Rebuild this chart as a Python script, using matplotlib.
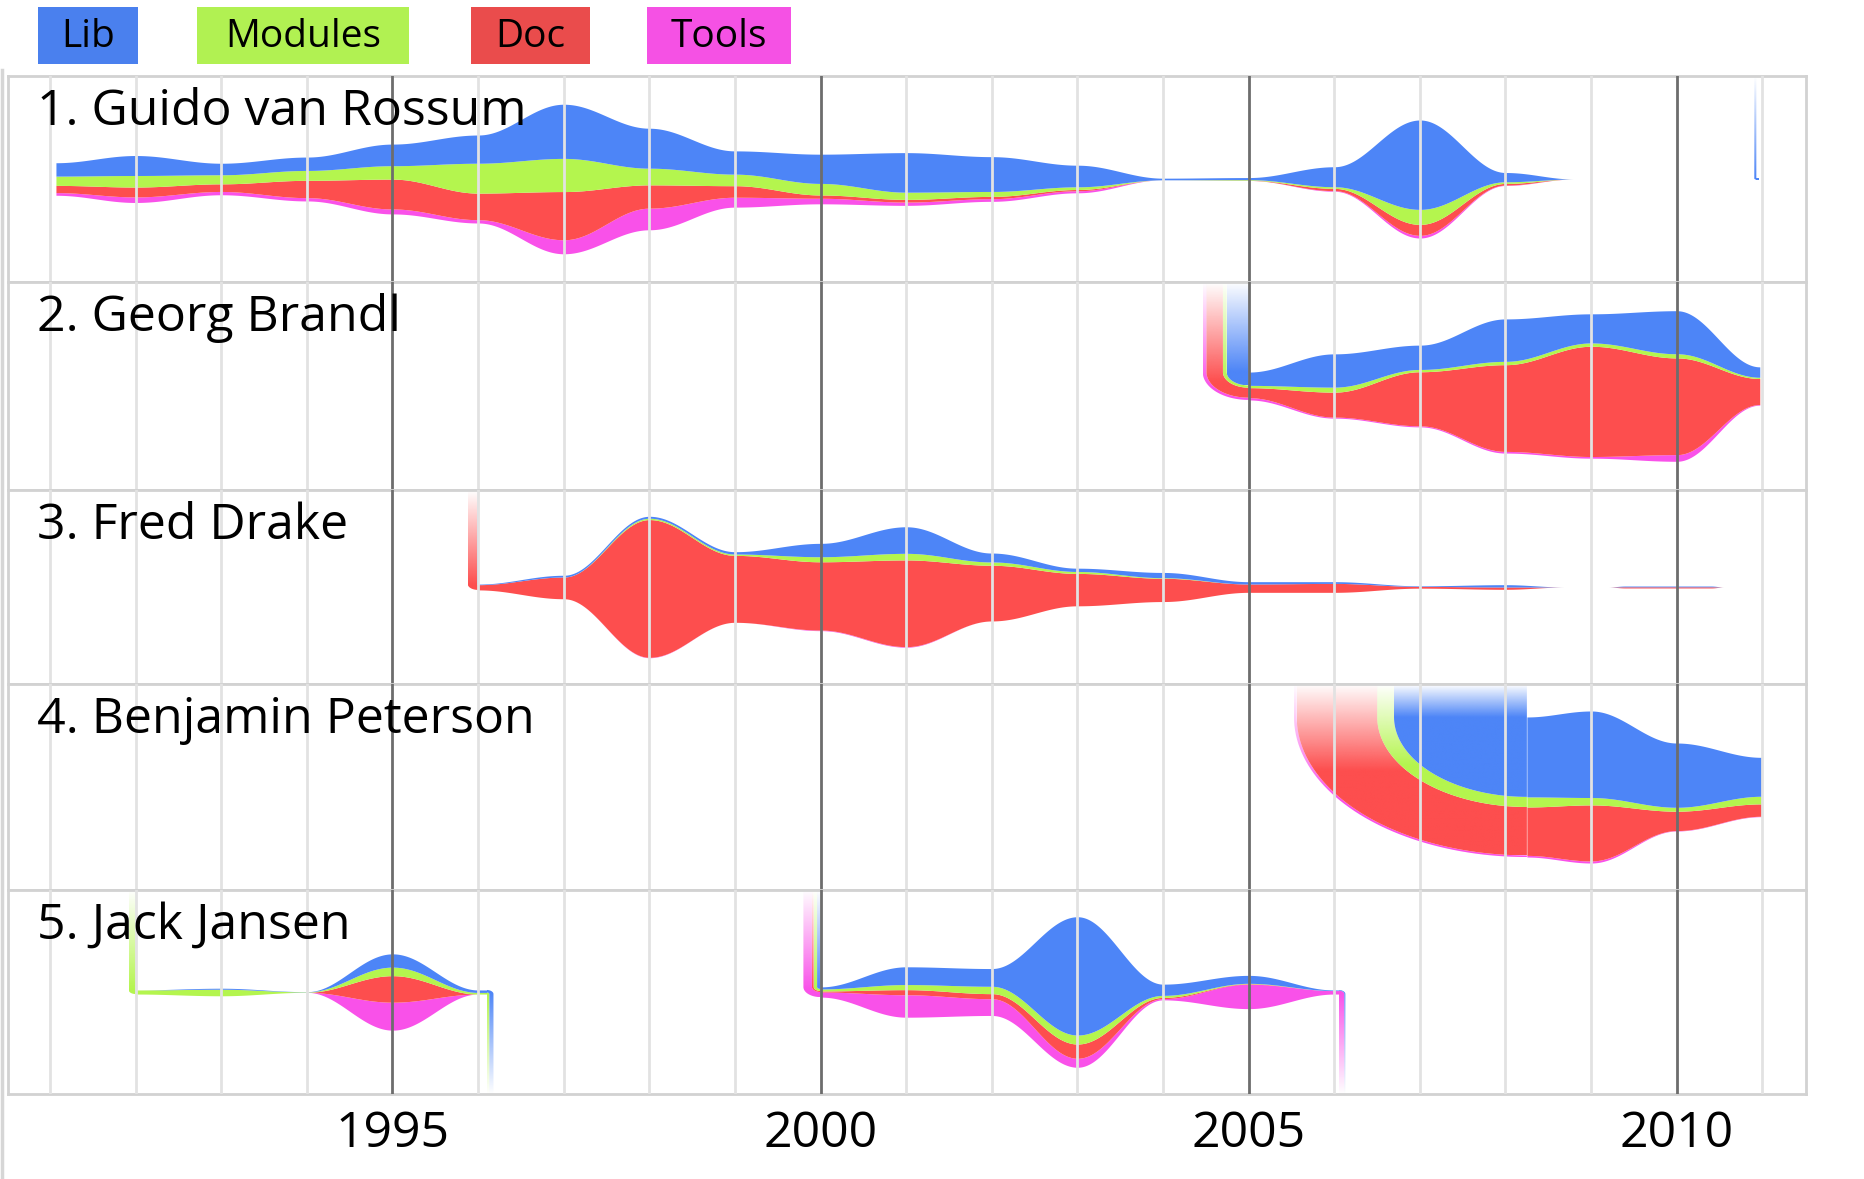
import numpy as np
import matplotlib
matplotlib.use('Agg')
import matplotlib.pyplot as plt
from matplotlib.path import Path
from matplotlib.patches import PathPatch, Rectangle
from matplotlib.lines import Line2D
from matplotlib.colors import to_rgb

plt.rcParams['font.family'] = ['Open Sans', 'DejaVu Sans']

categories = ['Lib', 'Modules', 'Doc', 'Tools']
legend_colors = ['#4a80ee', '#b1f152', '#ea4c4c', '#f551e4']
fill_colors = ['#4d85f7', '#b4f54e', '#fd4e4e', '#f951e9']
names = ['1. Guido van Rossum', '2. Georg Brandl', '3. Fred Drake',
         '4. Benjamin Peterson', '5. Jack Jansen']

grid_years = list(range(1991, 2012))
tick_years = [1995, 2000, 2005, 2010]

# stream widths per category, in % of the panel height (Lib, Modules, Doc, Tools)
guido_years = [1991.07, 1992, 1993, 1994, 1995, 1996, 1997, 1998, 1999, 2000,
               2001, 2002, 2003, 2004, 2005, 2006, 2007, 2008, 2008.8]
guido_lib = [6.5, 9.7, 5.6, 6.5, 10.5, 13.7, 26.3, 19.4, 11.3, 14.2,
             19.2, 16.9, 10.5, 0.8, 1.0, 9.7, 43.4, 4.5, 0]
guido_mod = [4.5, 5.6, 4.4, 4.8, 6.5, 14.5, 16.1, 8.1, 5.6, 5.6,
             3.5, 2.4, 1.3, 0, 0.3, 0.8, 7.3, 0.8, 0]
guido_doc = [3.5, 4.8, 3.7, 8.4, 14.5, 12.9, 23.4, 11.3, 5.6, 1.6,
             1.3, 1.1, 0.6, 0, 0.1, 1.1, 5.3, 0.8, 0]
guido_tools = [1.3, 2.7, 1.6, 1.6, 2.4, 1.6, 6.8, 10.5, 4.8, 2.7,
               1.6, 1.3, 1.0, 0, 0, 0.3, 1.3, 0.2, 0]

guido2_years = [2010.93, 2010.96]
guido2_lib = [0.6, 0.6]
guido2_mod = [0, 0]
guido2_doc = [0, 0]
guido2_tools = [0, 0]

georg_years = [2005, 2006, 2007, 2008, 2009, 2010, 2010.97]
georg_lib = [6.4, 16.0, 11.7, 20.4, 14.0, 20.7, 5.0]
georg_mod = [1.1, 2.4, 1.1, 1.6, 1.6, 2.0, 0.6]
georg_doc = [4.8, 12.0, 26.0, 41.7, 53.0, 46.5, 12.5]
georg_tools = [1.1, 0.5, 0.5, 0.8, 0.8, 3.2, 0.3]

fred_years = [1996, 1997, 1998, 1999, 2000, 2001, 2002, 2003, 2004, 2005,
              2006, 2007, 2008, 2008.7]
fred_lib = [0.3, 0.9, 1.0, 1.2, 6.9, 13.7, 4.6, 1.7, 2.7, 1.2, 0.9, 0.3, 1.2, 0]
fred_mod = [0, 0, 0.7, 0.7, 2.6, 3.4, 1.7, 1.0, 0.3, 0, 0, 0, 0, 0]
fred_doc = [2.7, 11.2, 71.0, 34.5, 35.2, 44.7, 28.7, 16.7, 12.0, 4.3, 4.6, 0.9, 1.2, 0]
fred_tools = [0, 0, 0.2, 0, 0.3, 0.3, 0, 0, 0, 0, 0, 0, 0, 0]

fred2_years = [2009.2, 2009.4, 2010.4, 2010.55]
fred2_lib = [0, 0.4, 0.4, 0]
fred2_mod = [0, 0, 0, 0]
fred2_doc = [0, 0.6, 0.6, 0]
fred2_tools = [0, 0, 0, 0]

benjamin_years = [2008.25, 2009, 2010, 2010.99]
benjamin_lib = [38.8, 42.0, 31.2, 18.9]
benjamin_mod = [4.9, 3.6, 1.9, 3.7]
benjamin_doc = [23.5, 27.2, 9.4, 6.0]
benjamin_tools = [0.8, 1.0, 0.2, 0.2]

jack_years = [1992, 1993, 1994, 1995, 1996, 1996.1]
jack_lib = [0, 0.5, 0.1, 6.5, 1.2, 1.2]
jack_mod = [2.0, 3.2, 0.2, 4.2, 0.8, 0.8]
jack_doc = [0, 0, 0, 13.0, 0, 0]
jack_tools = [0, 0, 0, 13.7, 0, 0]

jack2_years = [2000, 2001, 2002, 2003, 2004, 2005, 2006, 2006.05]
jack2_lib = [1.0, 8.7, 8.7, 58.0, 5.5, 3.9, 0.3, 0.3]
jack2_mod = [1.0, 2.5, 3.6, 4.4, 1.0, 0.2, 0, 0]
jack2_doc = [0.5, 2.5, 2.5, 7.0, 0.6, 0.2, 0, 0]
jack2_tools = [2.5, 11.0, 8.2, 4.4, 0.6, 12.0, 1.7, 1.7]

panels = [
    [(guido_years, [guido_lib, guido_mod, guido_doc, guido_tools], False, False),
     (guido2_years, [guido2_lib, guido2_mod, guido2_doc, guido2_tools], True, False)],
    [(georg_years, [georg_lib, georg_mod, georg_doc, georg_tools], True, False)],
    [(fred_years, [fred_lib, fred_mod, fred_doc, fred_tools], True, False),
     (fred2_years, [fred2_lib, fred2_mod, fred2_doc, fred2_tools], False, False)],
    [(benjamin_years, [benjamin_lib, benjamin_mod, benjamin_doc, benjamin_tools], True, False)],
    [(jack_years, [jack_lib, jack_mod, jack_doc, jack_tools], True, True),
     (jack2_years, [jack2_lib, jack2_mod, jack2_doc, jack2_tools], True, True)],
]

W = 0.04          # years of hook width per unit of stream width
TOP, BOTTOM = 50, -50


def cosine_curve(years, vals, n=60):
    xs, ys = [], []
    for i in range(len(years) - 1):
        s = np.linspace(0, 1, n, endpoint=False)
        xs.append(years[i] + s * (years[i + 1] - years[i]))
        ys.append(vals[i] + (1 - np.cos(np.pi * s)) / 2 * (vals[i + 1] - vals[i]))
    xs.append([years[-1]])
    ys.append([vals[-1]])
    return np.concatenate(xs), np.concatenate(ys)


def gradient_band(ax, poly, color, fade_from, fade_len, down):
    patch = PathPatch(Path(poly), facecolor='none', edgecolor='none')
    ax.add_patch(patch)
    y0, y1 = poly[:, 1].min(), poly[:, 1].max()
    ys = np.linspace(y0, y1, 300)
    if down:
        a = np.clip((fade_from - ys) / fade_len, 0, 1)
    else:
        a = np.clip((ys - fade_from) / fade_len, 0, 1)
    rgba = np.zeros((300, 2, 4))
    rgba[..., :3] = to_rgb(color)
    rgba[..., 3] = a[:, None]
    im = ax.imshow(rgba, extent=(poly[:, 0].min(), poly[:, 0].max(), y0, y1),
                   origin='lower', aspect='auto', interpolation='bilinear', zorder=2)
    im.set_clip_path(patch)


def draw_segment(ax, years, vals, enter, leave):
    layers = vals[::-1]          # bottom -> top : Tools, Doc, Modules, Lib
    cols = fill_colors[::-1]
    x = cosine_curve(years, layers[0])[0]
    curves = [cosine_curve(years, v)[1] for v in layers]
    lo = -np.sum(curves, axis=0) / 2
    for c, col in zip(curves, cols):
        ax.fill_between(x, lo, lo + c, color=col, lw=0, zorder=2)
        lo = lo + c

    th = np.linspace(0, np.pi / 2, 50)
    if enter:
        v0 = [v[0] for v in layers]
        T = sum(v0)
        b = -T / 2 + np.concatenate([[0], np.cumsum(v0)])
        x0, yc = years[0], T / 2
        edges = []
        for bi in b:
            e = x0 - W * (yc - bi)
            ex = np.concatenate([[e], x0 - (x0 - e) * np.cos(th)])
            ey = np.concatenate([[TOP], yc - (yc - bi) * np.sin(th)])
            edges.append(np.column_stack([ex, ey]))
        for k in range(4):
            if v0[k] <= 0:
                continue
            poly = np.vstack([edges[k], edges[k + 1][::-1]])
            fade = (TOP - yc) + 0.6 * (yc - b[k + 1])
            gradient_band(ax, poly, cols[k], TOP, max(fade, 5), True)
    if leave:
        v1 = [v[-1] for v in layers]
        T = sum(v1)
        b = -T / 2 + np.concatenate([[0], np.cumsum(v1)])
        x1, yc = years[-1], -T / 2
        edges = []
        for bi in b:
            f = x1 + W * (bi - yc)
            ex = np.concatenate([x1 + (f - x1) * np.sin(th), [f]])
            ey = np.concatenate([yc + (bi - yc) * np.cos(th), [BOTTOM]])
            edges.append(np.column_stack([ex, ey]))
        for k in range(4):
            if v1[k] <= 0:
                continue
            poly = np.vstack([edges[k], edges[k + 1][::-1]])
            fade = (yc - BOTTOM) + 0.6 * (b[k] - yc)
            gradient_band(ax, poly, cols[k], BOTTOM, max(fade, 5), False)


fig = plt.figure(figsize=(18.65, 11.79), dpi=100)
gs = fig.add_gridspec(5, 1, left=8 / 1865, right=1806 / 1865, top=1 - 76 / 1179,
                      bottom=1 - 1094 / 1179, hspace=0,
                      height_ratios=[206, 208, 194, 206, 204])

for i, name in enumerate(names):
    ax = fig.add_subplot(gs[i])
    for years, vals, enter, leave in panels[i]:
        draw_segment(ax, years, vals, enter, leave)
    for yr in grid_years:
        if yr in tick_years:
            ax.axvline(yr, color='#6d6d6d', lw=2.0, zorder=6)
        else:
            ax.axvline(yr, color='#e2e2e2', lw=2.0, zorder=5)
    ax.set_xlim(1990.51, 2011.51)
    ax.set_ylim(BOTTOM, TOP)
    ax.set_yticks([])
    for sp in ax.spines.values():
        sp.set_color('#d2d2d2')
        sp.set_linewidth(2)
    ax.annotate(name, xy=(0, 1), xycoords='axes fraction', xytext=(21, -35),
                textcoords='offset points', ha='left', va='baseline',
                fontsize=36, color='black', zorder=10)
    if i == 4:
        ax.set_xticks(tick_years)
        ax.tick_params(axis='x', length=0, pad=11, labelsize=36)
    else:
        ax.set_xticks([])

# legend boxes across the top
box_x = [38, 197, 471, 647]
box_w = [100, 212, 119, 144]
for lab, col, bx, bw in zip(categories, legend_colors, box_x, box_w):
    fig.patches.append(Rectangle((bx / 1865, 1 - 64 / 1179), bw / 1865, 57 / 1179,
                                 transform=fig.transFigure, facecolor=col,
                                 edgecolor='none'))
    fig.text((bx + bw / 2) / 1865, 1 - 37 / 1179, lab, ha='center', va='center',
             fontsize=28, color='black')

fig.add_artist(Line2D([2 / 1865, 2 / 1865], [0, 1 - 70 / 1179], transform=fig.transFigure,
                      color='#d6d6d6', lw=2.5))

fig.savefig('out.png', dpi=100, facecolor='white')
